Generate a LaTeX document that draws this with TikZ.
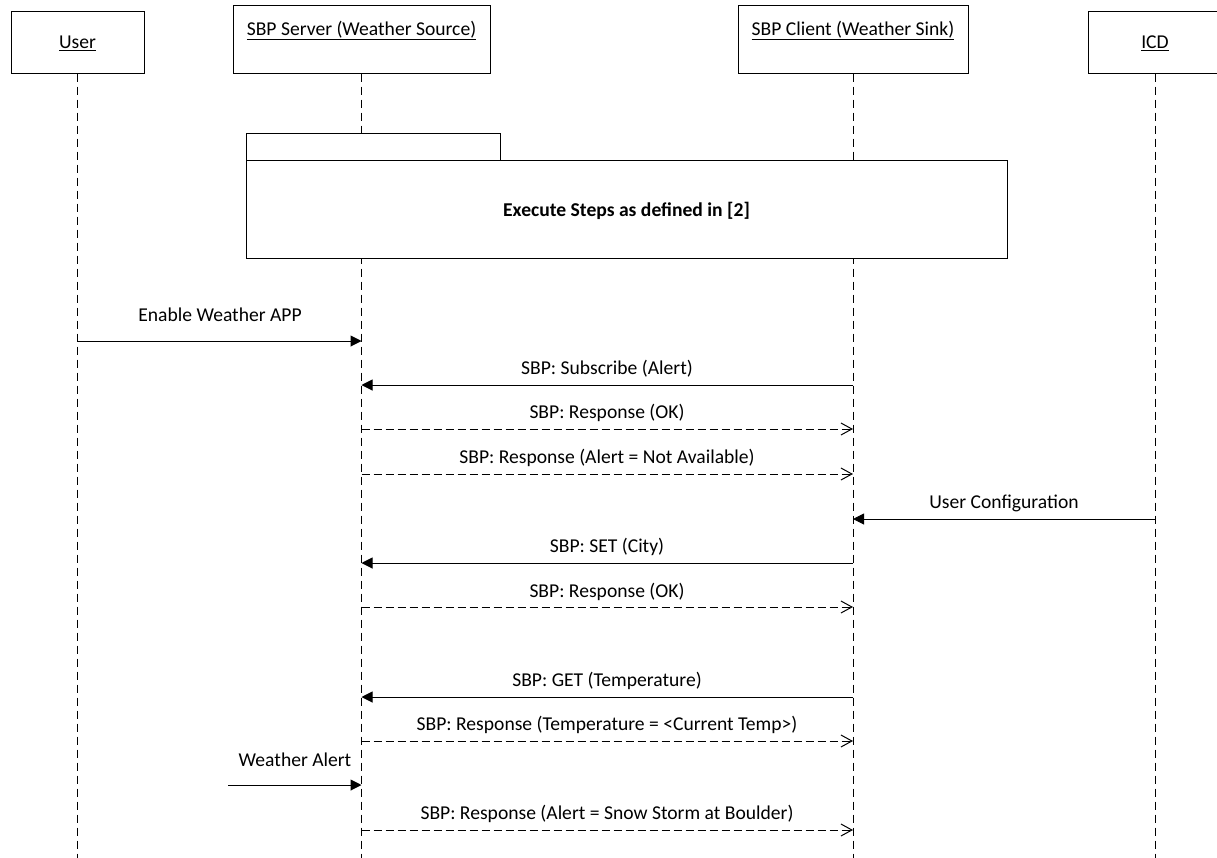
\documentclass[tikz,border=0pt]{standalone}
\usepackage{fontspec}
\setmainfont{Carlito}
\usetikzlibrary{arrows.meta}
\begin{document}
\begin{tikzpicture}[x=1pt,y=-1pt,
  every node/.style={font=\fontsize{19.6}{23}\selectfont},
  actor/.style={draw,line width=1pt,fill=white,inner sep=0pt},
  lifeline/.style={line width=0.9pt,dash pattern=on 8pt off 5pt},
  call/.style={line width=1pt,-{Triangle[length=11pt,width=11pt]}},
  reply/.style={line width=1pt,dash pattern=on 8pt off 4pt,-{Straight Barb[length=11pt,width=12pt,line width=1pt]}},
  lbl/.style={anchor=base,inner sep=0pt},
  frame/.style={draw,line width=1pt,fill=white}]
\useasboundingbox (0,0) rectangle (1217,857);
\clip (0,0) rectangle (1217,857);
\fill[white] (0,0) rectangle (1217,857);

% actors
\node[actor,minimum width=133pt,minimum height=62pt] (user) at (77.5,42) {};
\node[actor,minimum width=257pt,minimum height=68pt] (server) at (361.5,39) {};
\node[actor,minimum width=230pt,minimum height=68pt] (client) at (853,39) {};
\node[actor,minimum width=134pt,minimum height=62pt] (icd) at (1155,42) {};
\node[lbl] (userl) at (77.5,48.5) {\underline{User}};
\node[lbl] (serverl) at (361.5,35.5) {\underline{SBP Server (Weather Source)}};
\node[lbl] (clientl) at (853,35.5) {\underline{SBP Client (Weather Sink)}};
\node[lbl] (icdl) at (1155,48.5) {\underline{ICD}};

% lifelines
\coordinate (userend) at (77.5,860);
\coordinate (serverend) at (361.5,860);
\coordinate (clientend) at (853,860);
\coordinate (icdend) at (1155,860);
\draw[lifeline] (user.south) -- (userend);
\draw[lifeline] (server.south) -- (serverend);
\draw[lifeline] (client.south) -- (clientend);
\draw[lifeline] (icd.south) -- (icdend);

% frame
\draw[frame] (246,133) rectangle (500,160);
\draw[frame] (246,160) rectangle (1007,258);
\node[lbl,font=\fontsize{19.6}{23}\selectfont\bfseries] (exec) at (626.5,216.5) {Execute Steps as defined in [2]};

% messages
\draw[call] (user.south |- 0,341) -- (server.south |- 0,341);
\node[lbl] (m1) at (220,321.5) {Enable Weather APP};

\draw[call] (client.south |- 0,385) -- (server.south |- 0,385);
\node[lbl] (m2) at (607,374.5) {SBP: Subscribe (Alert)};

\draw[reply] (server.south |- 0,429) -- (client.south |- 0,429);
\node[lbl] (m3) at (607,418.5) {SBP: Response (OK)};

\draw[reply] (server.south |- 0,474) -- (client.south |- 0,474);
\node[lbl] (m4) at (607,463.5) {SBP: Response (Alert = Not Available)};

\draw[call] (icd.south |- 0,519) -- (client.south |- 0,519);
\node[lbl] (m5) at (1004,508.5) {User Configuration};

\draw[call] (client.south |- 0,563) -- (server.south |- 0,563);
\node[lbl] (m6) at (607,552.5) {SBP: SET (City)};

\draw[reply] (server.south |- 0,607) -- (client.south |- 0,607);
\node[lbl] (m7) at (607,597.5) {SBP: Response (OK)};

\draw[call] (client.south |- 0,697) -- (server.south |- 0,697);
\node[lbl] (m8) at (607,686.5) {SBP: GET (Temperature)};

\draw[reply] (server.south |- 0,741) -- (client.south |- 0,741);
\node[lbl] (m9) at (607,730.5) {SBP: Response (Temperature = <Current Temp>)};

\coordinate (alertsrc) at (228,785);
\draw[call] (alertsrc) -- (server.south |- 0,785);
\node[lbl] (m10) at (295,766.5) {Weather Alert};

\draw[reply] (server.south |- 0,830) -- (client.south |- 0,830);
\node[lbl] (m11) at (607,819.5) {SBP: Response (Alert = Snow Storm at Boulder)};
\end{tikzpicture}
\end{document}
